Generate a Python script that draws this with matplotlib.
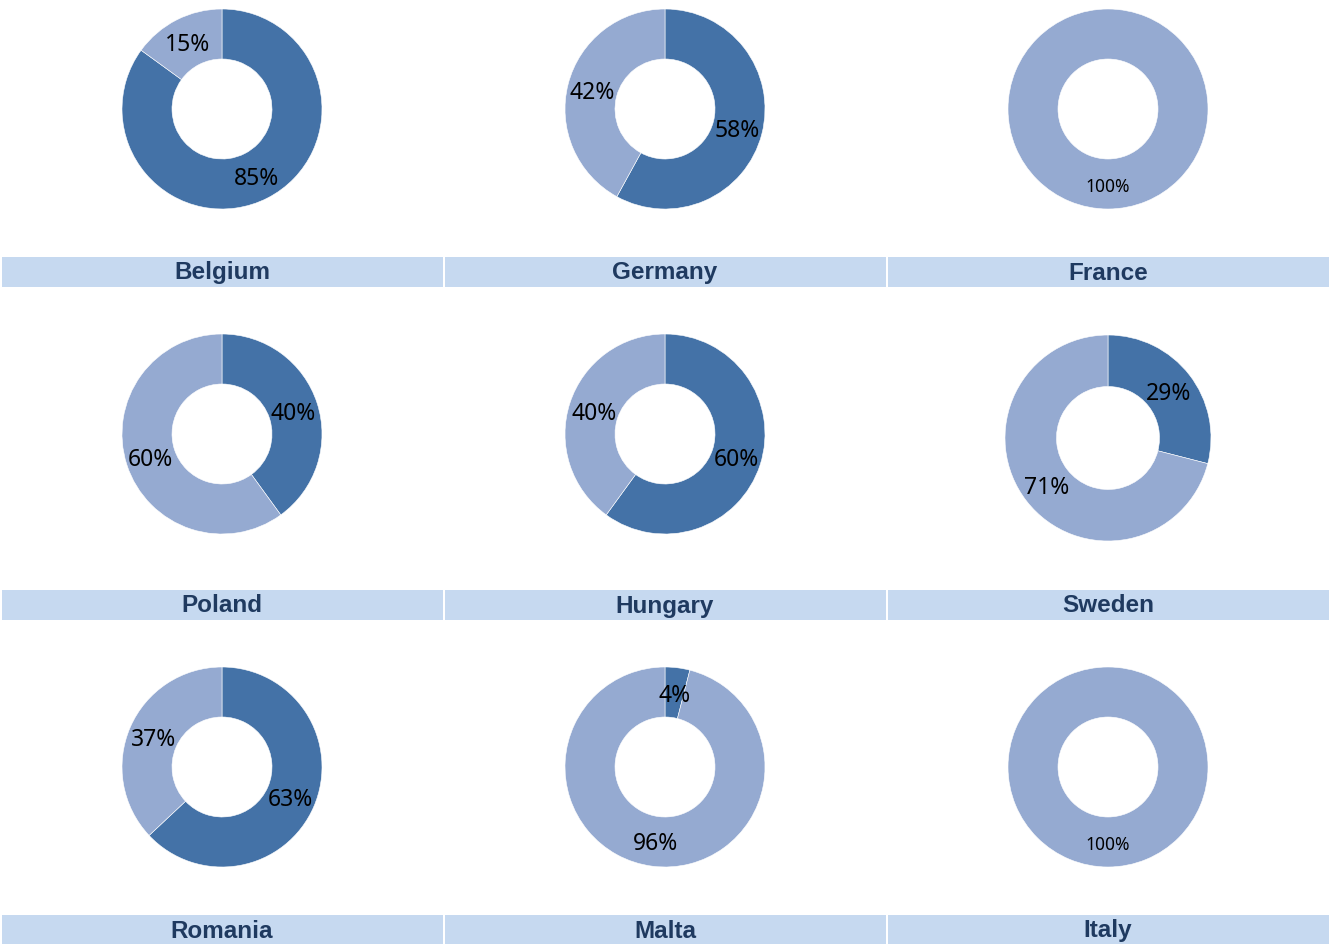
import matplotlib.pyplot as plt
from matplotlib.patches import Rectangle

countries = ["Belgium", "Germany", "France",
             "Poland", "Hungary", "Sweden",
             "Romania", "Malta", "Italy"]
dark_share = [85, 58, 0, 40, 60, 29, 63, 4, 0]
light_share = [15, 42, 100, 60, 40, 71, 37, 96, 100]

DARK = "#4472a7"
LIGHT = "#95aad1"
BAR = "#c6d9f0"
TITLE = "#1f3a60"

W, H = 1333, 944
fig = plt.figure(figsize=(W / 100, H / 100), dpi=100)
ax = fig.add_axes([0, 0, 1, 1])
ax.set_xlim(0, W)
ax.set_ylim(0, H)
ax.set_aspect("equal")
ax.axis("off")

col_x = [222, 665, 1108]
col_left = [2, 445, 888]
col_w = 441
row_y = [109, 434, 767]
bar_top = [257, 590, 915]
bar_h = 30


def pct_label(p):
    return f"{p:.0f}%" if p > 0.5 else ""


for i, name in enumerate(countries):
    r, c = divmod(i, 3)
    cx = col_x[c]
    cy = H - row_y[r]
    radius = 100
    if name == "Sweden":
        radius = 103
        cy = H - 438
    vals = [dark_share[i], light_share[i]]
    wedges, texts, autotexts = ax.pie(
        vals, colors=[DARK, LIGHT], startangle=90, counterclock=False,
        center=(cx, cy), radius=radius, autopct=pct_label, pctdistance=0.75,
        wedgeprops=dict(width=radius * 0.5, edgecolor="white", linewidth=0.4),
        textprops=dict(family="Noto Sans", fontsize=16.5, color="black"))
    for t in autotexts:
        x, y = t.get_position()
        t.set_position((x, y - 3))
        if t.get_text() == "100%":
            t.set_fontsize(12.5)

    ax.add_patch(Rectangle((col_left[c], H - bar_top[r] - bar_h), col_w, bar_h,
                           facecolor=BAR, edgecolor="none"))
    ax.text(cx, H - bar_top[r] - 22.5, name, ha="center", va="baseline",
            family="Liberation Sans", fontweight="bold", fontsize=17.5, color=TITLE)

ax.set_xlim(0, W)
ax.set_ylim(0, H)
fig.savefig("out.png", dpi=100, facecolor="white")
